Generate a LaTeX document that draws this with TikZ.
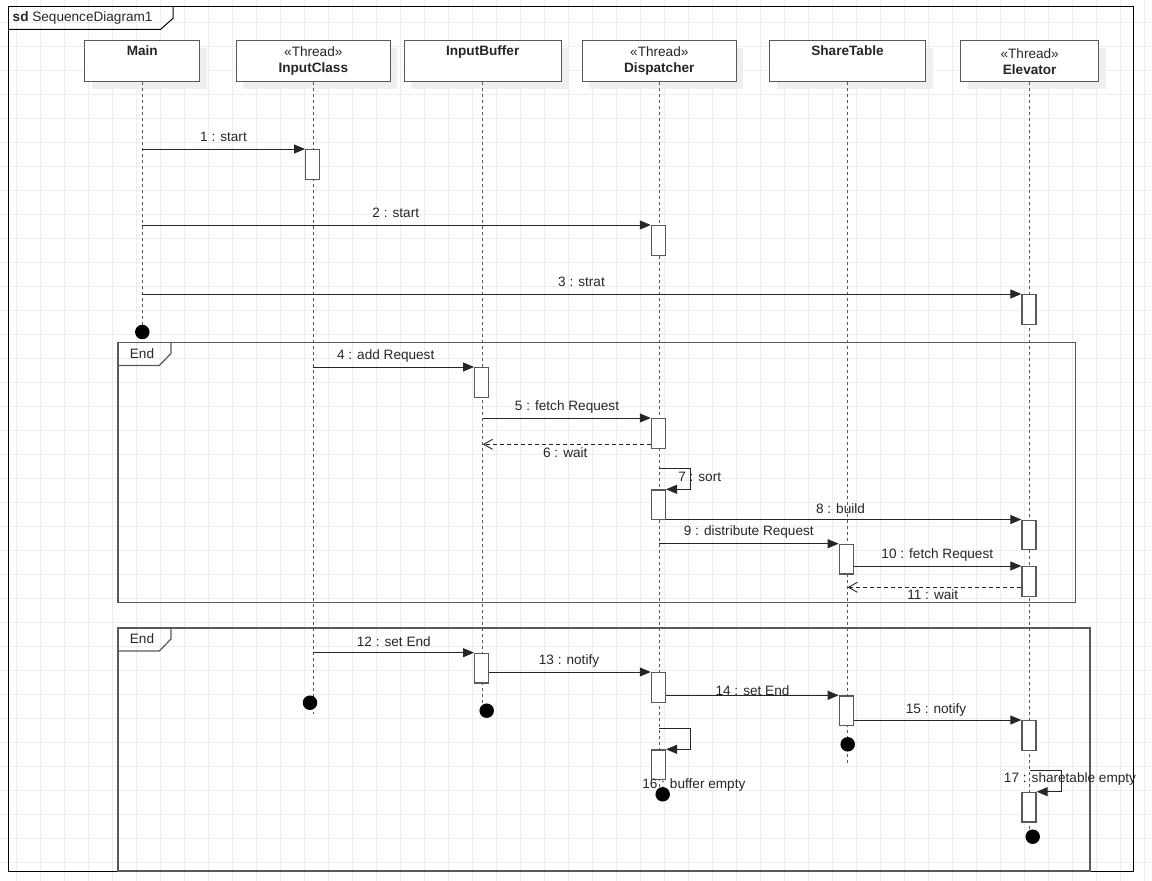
\documentclass[tikz,border=0pt]{standalone}
\usepackage{fontspec}
\setmainfont{Liberation Sans}
\usepackage{xcolor}
\usetikzlibrary{arrows.meta}
\usetikzlibrary{shadows}
\usetikzlibrary{calc}

\definecolor{gridgray}{HTML}{EDEDED}
\definecolor{edgegray}{HTML}{595959}
\definecolor{shadegray}{HTML}{EFEFEF}
\definecolor{inkgray}{HTML}{262626}

\begin{document}
\begin{tikzpicture}[x=1pt,y=-1pt,
  every node/.style={font=\fontsize{13.6}{16}\selectfont, text=inkgray},
  gridline/.style={gridgray, line width=0.9pt},
  head/.style={draw=edgegray, line width=1.3pt, fill=white, minimum height=41pt,
    inner sep=0pt, align=center, anchor=north,
    drop shadow={shadow xshift=7pt, shadow yshift=-7pt, fill=shadegray, opacity=1}},
  lifeline/.style={edgegray, line width=1pt, dash pattern=on 3pt off 3pt},
  bar/.style={draw=edgegray, line width=1.3pt, fill=white, minimum width=14pt,
    minimum height=29.5pt, inner sep=0pt, anchor=north},
  msg/.style={inkgray, line width=0.9pt, -{Triangle[length=11pt,width=9pt]}},
  reply/.style={inkgray, line width=0.9pt, dash pattern=on 4pt off 3pt,
    -{Straight Barb[length=9pt,width=10pt]}},
  lbl/.style={inner sep=0pt},
  stop/.style={circle, fill=black, minimum size=14.5pt, inner sep=0pt},
  frame/.style={edgegray, line width=1.2pt}]

  \useasboundingbox (0,0) rectangle (1152,881);

  % background grid
  \foreach \gx in {16.3,40.3,...,1152} \draw[gridline] (\gx,0) -- (\gx,881);
  \foreach \gy in {22.3,46.3,...,881} \draw[gridline] (0,\gy) -- (1152,\gy);

  % sd frame
  \draw[black, line width=1pt] (8,6) rectangle (1133,871);
  \draw[black, line width=1pt] (8,29.3) -- (160.7,29.3) -- (173,18.3) -- (173,6);
  \node[lbl, anchor=west] (sdname) at (12.5,17.5) {\textbf{sd} SequenceDiagram1};

  % the two End fragments
  \draw[frame] (118,342.3) rectangle (1075.7,602.7);
  \draw[frame] (118,365.5) -- (159.3,365.5) -- (171,353.5) -- (171,342.3);
  \node[lbl] (endA) at (142,353.5) {End};
  \draw[frame] (118,628) rectangle (1090,871);
  \draw[frame] (118,651) -- (159.3,651) -- (171,639) -- (171,628);
  \node[lbl] (endB) at (142,638.8) {End};

  % heads and lifelines
  \foreach \nm/\xx/\ww/\len/\txt in {
    main/142.3/115/244/{\textbf{Main}\\\strut},
    input/313.3/154/632/{«Thread»\\\textbf{InputClass}},
    buffer/482.7/157/624/{\textbf{InputBuffer}\\\strut},
    disp/659.3/154/709/{«Thread»\\\textbf{Dispatcher}},
    share/847.5/156/683/{\textbf{ShareTable}\\\strut},
    elev/1029.7/138/749/{«Thread»\\\textbf{Elevator}}}
  {
    \node[head, minimum width=\ww pt] (\nm) at (\xx,40) {\txt};
    \draw[lifeline] (\nm.south) -- ++(0,\len);
  }

  % activation bars
  \node[bar] (b1)  at (312.7,149)   {};
  \node[bar] (b2)  at (658.4,225)   {};
  \node[bar] (b3)  at (1029,294)    {};
  \node[bar] (b4)  at (481.7,367)   {};
  \node[bar] (b5)  at (658.4,418)   {};
  \node[bar] (b7)  at (658.4,489.3) {};
  \node[bar] (b8)  at (1029,519.5)  {};
  \node[bar] (b9)  at (846.3,543.7) {};
  \node[bar] (b10) at (1029,566)    {};
  \node[bar] (b12) at (481.7,652.7) {};
  \node[bar] (b13) at (658.4,672)   {};
  \node[bar] (b14) at (846.3,695.3) {};
  \node[bar] (b15) at (1029,720)    {};
  \node[bar] (b16) at (658.4,749.3) {};
  \node[bar] (b17) at (1029,791.7)  {};

  % messages
  \draw[msg] (main.south |- b1.north) -- (b1.north west);
  \draw[msg] (main.south |- b2.north) -- (b2.north west);
  \draw[msg] (main.south |- b3.north) -- (b3.north west);
  \draw[msg] (input.south |- b4.north) -- (b4.north west);
  \draw[msg] (buffer.south |- b5.north) -- (b5.north west);
  \draw[reply] ($(b5.south west)+(0,-4.5)$) -- ($(buffer.south |- b5.south)+(0,-4.5)$);
  \draw[msg] (disp.south |- 0,468) -- ++(31,0) |- (b7.north east);
  \draw[msg] (b7.east |- b8.north) -- (b8.north west);
  \draw[msg] (disp.south |- b9.north) -- (b9.north west);
  \draw[msg] (b9.east |- b10.north) -- (b10.north west);
  \draw[reply] ($(b10.south west)+(0,-9.5)$) -- ($(share.south |- b10.south)+(0,-9.5)$);
  \draw[msg] (input.south |- b12.north) -- (b12.north west);
  \draw[msg] (b12.east |- b13.north) -- (b13.north west);
  \draw[msg] (b13.east |- b14.north) -- (b14.north west);
  \draw[msg] (b14.east |- b15.north) -- (b15.north west);
  \draw[msg] (disp.south |- 0,728.7) -- ++(31,0) |- (b16.north east);
  \draw[msg] (elev.south |- 0,770.7) -- ++(31.3,0) |- (b17.north east);

  % message labels
  \node[lbl] (l1)  at (223.5,137.3) {1 : start};
  \node[lbl] (l2)  at (395.8,213.3) {2 : start};
  \node[lbl] (l3)  at (581.5,282.3) {3 : strat};
  \node[lbl] (l4)  at (385.7,355.7) {4 : add Request};
  \node[lbl] (l5)  at (567,406.7)   {5 : fetch Request};
  \node[lbl] (l6)  at (565.3,452.7) {6 : wait};
  \node[lbl] (l7)  at (699.7,477.3) {7 : sort};
  \node[lbl] (l8)  at (840.5,508.7) {8 : build};
  \node[lbl] (l9)  at (748.8,532.3) {9 : distribute Request};
  \node[lbl] (l10) at (937.3,554.7) {10 : fetch Request};
  \node[lbl] (l11) at (932.8,594.7) {11 : wait};
  \node[lbl] (l12) at (393.8,641.7) {12 : set End};
  \node[lbl] (l13) at (569,660.5)   {13 : notify};
  \node[lbl] (l14) at (752.5,691)   {14 : set End};
  \node[lbl] (l15) at (936,710)     {15 : notify};
  \node[lbl] (l16) at (693.8,785)   {16 : buffer empty};
  \node[lbl] (l17) at (1070,779)    {17 : sharetable empty};

  % destruction points
  \node[stop] (x1) at (142.3,332)   {};
  \node[stop] (x2) at (310,702.7)   {};
  \node[stop] (x3) at (486.7,710.7) {};
  \node[stop] (x4) at (662.7,794.3) {};
  \node[stop] (x5) at (847.7,744.3) {};
  \node[stop] (x6) at (1032.7,836.7) {};

\end{tikzpicture}
\end{document}
